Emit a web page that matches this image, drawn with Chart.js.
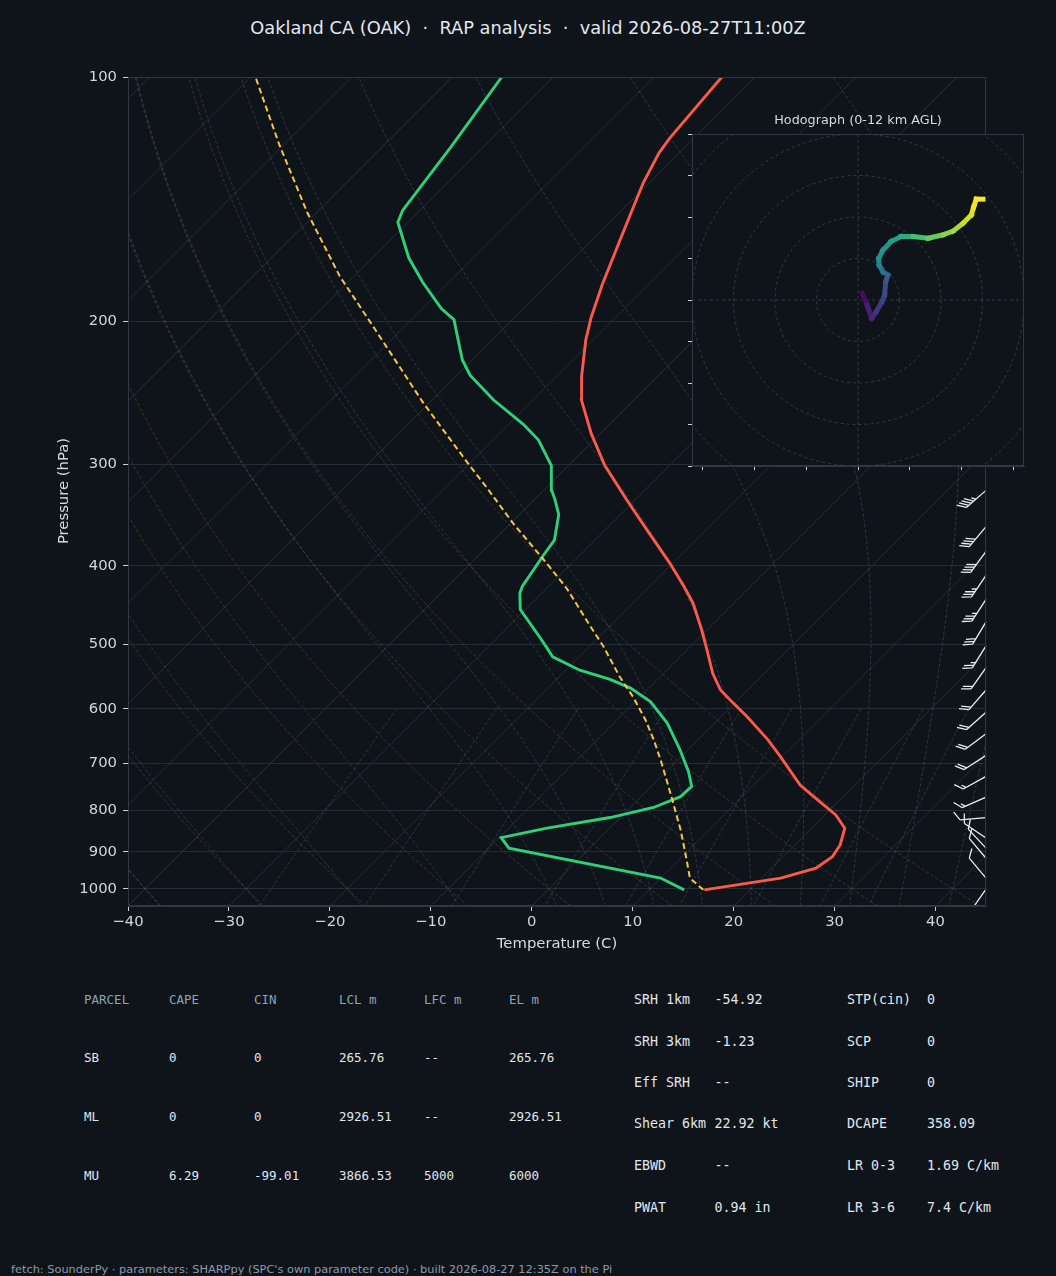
<!DOCTYPE html>
<html>
<head>
<meta charset="utf-8">
<script src="https://cdn.jsdelivr.net/npm/chart.js@4"></script>
<style>
  html, body { margin: 0; padding: 0; background: #0f141b; }
  body { width: 1056px; height: 1276px; position: relative; overflow: hidden;
         font-family: 'DejaVu Sans', sans-serif; color: #d4dae2; }
  canvas { position: absolute; }
  #skewt { left: 0; top: 0; }
  #hodo { left: 672px; top: 110px; }
  .txt { position: absolute; white-space: pre; line-height: 18px; }
  #title { left: 0; top: 18px; width: 1056px; text-align: center; font-size: 17.8px; line-height: 20px; color: #e2e7ed; }
  #hodoTitle { left: 692px; top: 111px; width: 332px; text-align: center; font-size: 12.8px; color: #d4dae2; }
  #xTitle { left: 457px; top: 934px; width: 200px; text-align: center; font-size: 14.8px; }
  #yTitle { left: -37px; top: 482px; width: 200px; text-align: center; font-size: 14.8px; transform: rotate(-90deg); }
  .mono { font-family: 'DejaVu Sans Mono', monospace; line-height: 16px; }
  #footer { left: 11px; top: 1260px; font-size: 11.35px; color: #8d99a8; }
</style>
</head>
<body>
<div id="title" class="txt">Oakland CA (OAK)  ·  RAP analysis  ·  valid 2026-08-27T11:00Z</div>
<canvas id="skewt" width="1056" height="960"></canvas>
<div id="xTitle" class="txt">Temperature (C)</div>
<div id="yTitle" class="txt">Pressure (hPa)</div>
<div id="hodoTitle" class="txt">Hodograph (0-12 km AGL)</div>
<canvas id="hodo" width="360" height="366"></canvas>
<div id="footer" class="txt">fetch: SounderPy · parameters: SHARPpy (SPC's own parameter code) · built 2026-08-27 12:35Z on the Pi</div>
<script>
// sounding values
const tempPres = [1003, 970, 943, 913, 883, 842, 811, 770, 745, 687, 655, 614, 585, 569, 543, 508, 480, 445, 424, 397, 361, 332, 301, 275, 250, 234, 211, 198, 180, 156, 135, 124, 119, 100];
const tempC = [15.5, 21.9, 24.4, 24.9, 24.5, 23.3, 21.1, 17.1, 14.6, 9.8, 6.9, 2.6, -0.8, -2.7, -5.1, -8.0, -10.5, -14.0, -16.6, -20.3, -25.9, -30.8, -36.4, -40.9, -45.2, -47.5, -50.7, -52.4, -54.6, -57.6, -60.6, -62.0, -62.4, -63.3];

const dewPres = [1003, 970, 891, 865, 842, 817, 794, 770, 748, 717, 674, 625, 588, 566, 552, 538, 518, 491, 453, 432, 424, 388, 372, 346, 332, 323, 301, 280, 268, 250, 233, 223, 199, 193, 179, 167, 151, 146, 122, 100];
const dewC = [13.5, 10.0, -8.0, -9.8, -6.2, -1.0, 2.3, 3.9, 4.0, 2.2, -0.8, -4.7, -8.5, -11.8, -14.7, -18.6, -22.6, -25.7, -30.5, -32.2, -32.6, -33.6, -34.0, -36.1, -37.9, -39.2, -41.7, -45.5, -48.5, -53.9, -58.7, -61.0, -65.8, -68.1, -72.6, -76.4, -81.0, -81.7, -83.2, -85.1];

const parcelPres = [1003, 970, 913, 846, 770, 700, 655, 619, 580, 548, 503, 475, 428, 397, 355, 320, 301, 252, 203, 176, 147, 121, 100];
const parcelC = [15.4, 12.9, 10.4, 7.2, 3.0, -1.3, -4.4, -7.2, -10.7, -14.0, -18.6, -21.9, -27.8, -32.5, -39.7, -46.0, -49.8, -60.6, -73.1, -81.4, -90.9, -100.5, -109.5];

// wind barbs (direction from, degrees; speed, kt)
const barbPres = [285, 323, 358, 384, 411, 440, 469, 502, 534, 569, 606, 644, 685, 727, 771, 817, 866, 891, 917, 970, 1001];
const barbDir = [230, 229, 220, 216, 214, 213, 211, 212, 215, 221, 228, 233, 237, 241, 246, 265, 304, 317, 320, 320, 215];
const barbKt = [45, 45, 40, 40, 35, 35, 30, 25, 20, 20, 20, 20, 20, 15, 15, 10, 10, 10, 10, 10, 10];

// hodograph trace (kt) and height AGL (km)
const hodoU = [1.0, 2.2, 3.3, 4.4, 5.8, 6.4, 6.7, 7.2, 6.0, 5.1, 5.0, 6.0, 8.0, 10.4, 13.3, 16.9, 20.5, 22.9, 25.3, 27.3, 27.9, 28.5, 30.1];
const hodoV = [1.6, -1.2, -4.4, -2.8, -0.4, 1.2, 4.4, 6.0, 6.8, 8.4, 10.0, 12.0, 14.1, 15.3, 15.3, 14.9, 15.7, 16.6, 18.5, 20.5, 22.5, 24.3, 24.3];
const hodoKm = [0, 0.4, 1.0, 1.4, 1.8, 2.2, 2.6, 3.2, 3.8, 4.6, 5.4, 5.9, 6.2, 6.8, 7.4, 8.4, 9.2, 9.8, 10.4, 11.0, 11.4, 11.8, 12.0];

const pressureTicks = [100, 200, 300, 400, 500, 600, 700, 800, 900, 1000];
const tempTicks = [-40, -30, -20, -10, 0, 10, 20, 30, 40];
const hodoYTicks = [-40, -30, -20, -10, 0, 10, 20, 30, 40];
const hodoXTicks = [-37.5, -25, -12.5, 0, 12.5, 25, 37.5];

// tables
const parcelHeaders = ['PARCEL', 'CAPE', 'CIN', 'LCL m', 'LFC m', 'EL m'];
const parcelRows = [
  ['SB', '0', '0', '265.76', '--', '265.76'],
  ['ML', '0', '0', '2926.51', '--', '2926.51'],
  ['MU', '6.29', '-99.01', '3866.53', '5000', '6000']
];
const paramLabels = ['SRH 1km', 'SRH 3km', 'Eff SRH', 'Shear 6km', 'EBWD', 'PWAT'];
const paramValues = ['-54.92', '-1.23', '--', '22.92 kt', '--', '0.94 in'];
const paramLabels2 = ['STP(cin)', 'SCP', 'SHIP', 'DCAPE', 'LR 0-3', 'LR 3-6'];
const paramValues2 = ['0', '0', '0', '358.09', '1.69 C/km', '7.4 C/km'];

const P_TOP = 100, P_BOT = 1050, T_MIN = -40, T_MAX = 45;
// 45 degree isotherms for an 858 x 829 px plot box
const SKEW = (T_MAX - T_MIN) * (829 / 858) / Math.log10(P_BOT / P_TOP);
function skewX(t, p) { return t + SKEW * Math.log10(P_BOT / p); }
function minus(v) { return v < 0 ? '\u2212' + Math.abs(v) : String(v); }

const tickFont = { family: 'DejaVu Sans', size: 14.8 };
const BORDER = '#2e3845';

// --- background lines: isotherms, dry/moist adiabats, mixing ratio
function moistLapse(T, p) {
  const tc = T - 273.15;
  const es = 6.112 * Math.exp(17.67 * tc / (tc + 243.5));
  const rs = 0.622 * es / (p - es);
  const num = 287.04 * T + 2.501e6 * rs;
  const den = 1005.7 + 2.501e6 * 2.501e6 * rs * 0.622 / (287.04 * T * T);
  return num / den / p;
}
function moistLine(t0) {
  const run = (pEnd, step) => {
    let T = t0 + 273.15, p = 1000;
    const out = [[p, T - 273.15]];
    while ((step < 0 && p > pEnd) || (step > 0 && p < pEnd)) {
      const h = step < 0 ? -Math.min(-step, p - pEnd) : Math.min(step, pEnd - p);
      const k1 = moistLapse(T, p);
      const k2 = moistLapse(T + h / 2 * k1, p + h / 2);
      const k3 = moistLapse(T + h / 2 * k2, p + h / 2);
      const k4 = moistLapse(T + h * k3, p + h);
      T += h / 6 * (k1 + 2 * k2 + 2 * k3 + k4);
      p += h;
      out.push([p, T - 273.15]);
    }
    return out;
  };
  return run(P_BOT, 5).reverse().concat(run(P_TOP, -5).slice(1));
}

const skewGrid = {
  id: 'skewGrid',
  beforeDatasetsDraw(chart) {
    const { ctx, chartArea: a, scales: { x, y } } = chart;
    const pt = (t, p) => [x.getPixelForValue(skewX(t, p)), y.getPixelForValue(p)];
    const curve = (pairs) => {
      ctx.beginPath();
      pairs.forEach(([p, t], i) => {
        const [px, py] = pt(t, p);
        if (i === 0) ctx.moveTo(px, py); else ctx.lineTo(px, py);
      });
      ctx.stroke();
    };
    const levels = [];
    for (let i = 0; i <= 60; i++) levels.push(P_BOT * Math.pow(P_TOP / P_BOT, i / 60));

    ctx.save();
    ctx.beginPath();
    ctx.rect(a.left, a.top, a.width, a.height);
    ctx.clip();

    // isotherms
    ctx.strokeStyle = '#262e39';
    ctx.lineWidth = 1;
    for (let t = -130; t <= 40; t += 10) curve([[P_BOT, t], [P_TOP, t]]);

    ctx.setLineDash([3.5, 2]);
    ctx.lineWidth = 0.8;
    // dry adiabats
    ctx.strokeStyle = 'rgba(140, 108, 66, 0.45)';
    for (let t0 = -40; t0 <= 40; t0 += 10) {
      curve(levels.map(p => [p, (t0 + 273.15) * Math.pow(p / 1000, 0.2857) - 273.15]));
    }
    // moist adiabats
    ctx.strokeStyle = 'rgba(92, 118, 142, 0.45)';
    [-40, -30, -20, -10, 0, 5, 10, 15, 20, 25, 30, 35, 40, 45].forEach(t0 => curve(moistLine(t0)));
    // mixing ratio lines
    ctx.strokeStyle = 'rgba(84, 120, 140, 0.45)';
    [0.0004, 0.001, 0.002, 0.004, 0.007, 0.01, 0.016, 0.024, 0.032].forEach(w => {
      const pairs = [];
      for (let i = 0; i <= 20; i++) {
        const p = 600 + (P_BOT - 600) * i / 20;
        const e = w * p / (0.622 + w);
        const l = Math.log(e / 6.112);
        pairs.push([p, 243.5 * l / (17.67 - l)]);
      }
      curve(pairs);
    });
    ctx.restore();
  }
};

const windBarbs = {
  id: 'windBarbs',
  afterDatasetsDraw(chart) {
    const { ctx, chartArea: a, scales: { y } } = chart;
    ctx.save();
    ctx.beginPath();
    ctx.rect(a.left, a.top, a.width + 1, a.height);
    ctx.clip();
    ctx.strokeStyle = '#e8edf2';
    ctx.lineWidth = 1.3;
    const rot = 55 * Math.PI / 180;
    barbPres.forEach((p, i) => {
      const tx = a.right, ty = y.getPixelForValue(p);
      const d = barbDir[i] * Math.PI / 180;
      const sx = Math.sin(d), sy = -Math.cos(d);
      const ex = tx + 26 * sx, ey = ty + 26 * sy;
      const bx = sx * Math.cos(rot) - sy * Math.sin(rot);
      const by = sx * Math.sin(rot) + sy * Math.cos(rot);
      ctx.beginPath();
      ctx.moveTo(tx, ty);
      ctx.lineTo(ex, ey);
      const spd = Math.round(barbKt[i] / 5) * 5;
      const full = Math.floor(spd / 10), half = spd % 10 >= 5;
      let pos = 0;
      for (let k = 0; k < full; k++) {
        const px = ex - pos * sx, py = ey - pos * sy;
        ctx.moveTo(px, py);
        ctx.lineTo(px + 10 * bx, py + 10 * by);
        pos += 3.2;
      }
      if (half) {
        if (full === 0) pos += 3.2;
        const px = ex - pos * sx, py = ey - pos * sy;
        ctx.moveTo(px, py);
        ctx.lineTo(px + 5 * bx, py + 5 * by);
      }
      ctx.stroke();
    });
    ctx.restore();
  }
};

const frame = {
  id: 'frame',
  afterDraw(chart) {
    const { ctx, chartArea: a } = chart;
    ctx.save();
    ctx.strokeStyle = BORDER;
    ctx.lineWidth = 1;
    ctx.strokeRect(a.left + 0.5, a.top + 0.5, a.width - 1, a.height - 1);
    ctx.restore();
  }
};

function profile(pres, vals) {
  return pres.map((p, i) => ({ x: skewX(vals[i], p), y: p }));
}

new Chart(document.getElementById('skewt'), {
  type: 'scatter',
  data: {
    datasets: [
      { data: profile(parcelPres, parcelC), showLine: true, borderColor: '#f6c646', borderWidth: 2,
        borderDash: [6, 3.5], pointRadius: 0 },
      { data: profile(dewPres, dewC), showLine: true, borderColor: '#2fd07a', borderWidth: 2.9, pointRadius: 0 },
      { data: profile(tempPres, tempC), showLine: true, borderColor: '#fb5a48', borderWidth: 2.9, pointRadius: 0 }
    ]
  },
  options: {
    responsive: false,
    animation: false,
    layout: { padding: { top: 77, right: 70, bottom: 0, left: 0 } },
    plugins: { legend: { display: false }, tooltip: { enabled: false } },
    scales: {
      x: {
        type: 'linear', min: T_MIN, max: T_MAX,
        afterBuildTicks: s => { s.ticks = tempTicks.map(v => ({ value: v })); },
        afterFit: s => { s.height = 54; },
        ticks: { color: '#cfd6de', font: tickFont, padding: 2, autoSkip: false, maxRotation: 0, callback: v => minus(v) },
        grid: { drawOnChartArea: false, drawTicks: true, tickLength: 5, tickColor: '#c8d0da' },
        border: { color: BORDER }
      },
      y: {
        type: 'logarithmic', reverse: true, min: P_TOP, max: P_BOT,
        afterBuildTicks: s => { s.ticks = pressureTicks.map(v => ({ value: v })); },
        afterFit: s => { s.width = 128; },
        ticks: { color: '#cfd6de', font: tickFont, padding: 6, autoSkip: false, callback: v => String(v) },
        grid: { color: '#232b36', lineWidth: 1, tickLength: 5, tickColor: '#c8d0da' },
        border: { color: BORDER }
      }
    }
  },
  plugins: [skewGrid, windBarbs, frame]
});

// --- hodograph inset
const viridisStops = ['#440154', '#482475', '#414487', '#355f8d', '#2a788e', '#21918c', '#22a884', '#44bf70', '#7ad151', '#bddf26', '#fde725'];
function hexRgb(h) { return [1, 3, 5].map(i => parseInt(h.slice(i, i + 2), 16)); }
function viridis(f) {
  f = Math.max(0, Math.min(1, f)) * 10;
  const i = Math.min(9, Math.floor(f)), r = f - i;
  const a = hexRgb(viridisStops[i]), b = hexRgb(viridisStops[i + 1]);
  return 'rgb(' + a.map((c, k) => Math.round(c + (b[k] - c) * r)).join(',') + ')';
}

const hodoBg = {
  id: 'hodoBg',
  beforeDatasetsDraw(chart) {
    const { ctx, chartArea: a, scales: { x, y } } = chart;
    ctx.save();
    ctx.fillStyle = '#0f141b';
    ctx.fillRect(a.left, a.top, a.width, a.height);
    ctx.beginPath();
    ctx.rect(a.left, a.top, a.width, a.height);
    ctx.clip();
    ctx.strokeStyle = '#313c4a';
    ctx.lineWidth = 1;
    ctx.setLineDash([3, 3]);
    const cx = x.getPixelForValue(0), cy = y.getPixelForValue(0);
    for (let r = 10; r <= 60; r += 10) {
      ctx.beginPath();
      ctx.arc(cx, cy, x.getPixelForValue(r) - cx, 0, Math.PI * 2);
      ctx.stroke();
    }
    ctx.beginPath();
    ctx.moveTo(a.left, cy); ctx.lineTo(a.right, cy);
    ctx.moveTo(cx, a.top); ctx.lineTo(cx, a.bottom);
    ctx.stroke();
    ctx.restore();
  },
  afterDraw(chart) {
    const { ctx, chartArea: a } = chart;
    ctx.save();
    ctx.strokeStyle = BORDER;
    ctx.strokeRect(a.left + 0.5, a.top + 0.5, a.width - 1, a.height - 1);
    ctx.restore();
  }
};

new Chart(document.getElementById('hodo'), {
  type: 'scatter',
  data: {
    datasets: [{
      data: hodoU.map((u, i) => ({ x: u, y: hodoV[i] })),
      showLine: true, pointRadius: 0, borderWidth: 5, borderCapStyle: 'square',
      borderColor: '#440154',
      segment: { borderColor: c => viridis(hodoKm[c.p1DataIndex] / 12) }
    }]
  },
  options: {
    responsive: false,
    animation: false,
    layout: { padding: { top: 24, right: 8, bottom: 0, left: 0 } },
    plugins: { legend: { display: false }, tooltip: { enabled: false } },
    scales: {
      x: {
        type: 'linear', min: -40, max: 40,
        afterBuildTicks: s => { s.ticks = hodoXTicks.map(v => ({ value: v })); },
        afterFit: s => { s.height = 10; },
        ticks: { display: false },
        grid: { drawOnChartArea: false, drawTicks: true, tickLength: 4, tickColor: '#c8d0da' },
        border: { color: BORDER }
      },
      y: {
        type: 'linear', min: -40, max: 40,
        afterBuildTicks: s => { s.ticks = hodoYTicks.map(v => ({ value: v })); },
        afterFit: s => { s.width = 20; },
        ticks: { display: false },
        grid: { drawOnChartArea: false, drawTicks: true, tickLength: 4, tickColor: '#c8d0da' },
        border: { color: BORDER }
      }
    }
  },
  plugins: [hodoBg]
});

// --- parameter tables
function addText(str, left, centerY, size, color) {
  const d = document.createElement('div');
  d.className = 'txt mono';
  d.textContent = str;
  d.style.left = left + 'px';
  d.style.top = (centerY - 8) + 'px';
  d.style.fontSize = size + 'px';
  d.style.color = color;
  document.body.appendChild(d);
}
const parcelCols = [84, 169, 254, 339, 424, 509];
const parcelRowsY = [1000, 1058.3, 1116.7, 1176];
parcelHeaders.forEach((h, c) => addText(h, parcelCols[c], parcelRowsY[0], 12.5, '#8ea2b6'));
parcelRows.forEach((row, r) => row.forEach((v, c) => addText(v, parcelCols[c], parcelRowsY[r + 1], 12.5, '#e1e6ec')));

const paramRowsY = [1000, 1041.7, 1082.7, 1124.3, 1165.7, 1207.7];
paramLabels.forEach((l, r) => {
  addText(l, 634, paramRowsY[r], 13.3, '#e1e6ec');
  addText(paramValues[r], 714.5, paramRowsY[r], 13.3, '#e1e6ec');
  addText(paramLabels2[r], 847, paramRowsY[r], 13.3, '#e1e6ec');
  addText(paramValues2[r], 927, paramRowsY[r], 13.3, '#e1e6ec');
});
</script>
</body>
</html>
